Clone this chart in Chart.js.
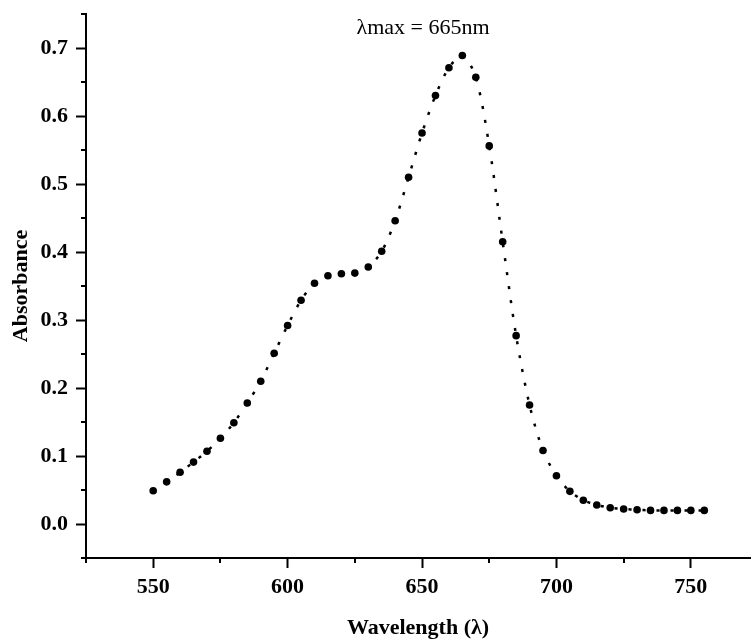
<!DOCTYPE html>
<html>
<head>
<meta charset="utf-8">
<script src="https://cdn.jsdelivr.net/npm/chart.js@4/dist/chart.umd.min.js"></script>
<style>
  html, body { margin: 0; padding: 0; background: #fff; overflow: hidden; }
  #wrap { width: 754px; height: 639px; }
</style>
</head>
<body>
<div id="wrap"><canvas id="c" width="754" height="639"></canvas></div>
<script>
// Absorption spectrum, 550–755 nm in 5 nm steps
const wavelengths = [550, 555, 560, 565, 570, 575, 580, 585, 590, 595,
                     600, 605, 610, 615, 620, 625, 630, 635, 640, 645,
                     650, 655, 660, 665, 670, 675, 680, 685, 690, 695,
                     700, 705, 710, 715, 720, 725, 730, 735, 740, 745,
                     750, 755];
const absorbance = [0.049, 0.062, 0.076, 0.091, 0.107, 0.126, 0.149, 0.178, 0.210, 0.251,
                    0.292, 0.329, 0.354, 0.365, 0.368, 0.369, 0.378, 0.401, 0.446, 0.510,
                    0.575, 0.630, 0.671, 0.689, 0.657, 0.556, 0.415, 0.277, 0.175, 0.108,
                    0.071, 0.048, 0.035, 0.028, 0.024, 0.022, 0.021, 0.020, 0.020, 0.020,
                    0.020, 0.020];

// Axis ticks: every listed value gets a mark, labelled ones get a long mark
const xTickValues = [525, 550, 575, 600, 625, 650, 675, 700, 725, 750];
const xTickLabels = [550, 600, 650, 700, 750];
const yTickValues = [-0.05, 0.0, 0.05, 0.1, 0.15, 0.2, 0.25, 0.3, 0.35, 0.4, 0.45, 0.5, 0.55, 0.6, 0.65, 0.7, 0.75];
const yTickLabels = [0.0, 0.1, 0.2, 0.3, 0.4, 0.5, 0.6, 0.7];

const annotationText = 'λmax = 665nm';

const SERIF = '"Liberation Serif", "Times New Roman", serif';
const isLabelled = (list, v) => list.some(l => Math.abs(l - v) < 1e-6);

const points = wavelengths.map((w, i) => ({ x: w, y: absorbance[i] }));

// Short marks for unlabelled ticks, pointing outward like the long ones
const minorTicks = {
  id: 'minorTicks',
  afterDraw(chart) {
    const { ctx, scales } = chart;
    ctx.save();
    ctx.strokeStyle = '#000';
    ctx.lineWidth = 2;
    const xs = scales.x, ys = scales.y;
    xTickValues.filter(v => !isLabelled(xTickLabels, v)).forEach(v => {
      const px = Math.round(xs.getPixelForValue(v));
      ctx.beginPath();
      ctx.moveTo(px, ys.bottom);
      ctx.lineTo(px, ys.bottom + 5);
      ctx.stroke();
    });
    yTickValues.filter(v => !isLabelled(yTickLabels, v)).forEach(v => {
      const py = Math.round(ys.getPixelForValue(v));
      ctx.beginPath();
      ctx.moveTo(xs.left, py);
      ctx.lineTo(xs.left - 5, py);
      ctx.stroke();
    });
    ctx.restore();
  }
};

// Peak annotation above the curve
const peakLabel = {
  id: 'peakLabel',
  afterDraw(chart) {
    const { ctx } = chart;
    ctx.save();
    ctx.font = '22px ' + SERIF;
    ctx.fillStyle = '#000';
    ctx.textAlign = 'center';
    ctx.textBaseline = 'middle';
    ctx.fillText(annotationText, 423, 28);
    ctx.restore();
  }
};

new Chart(document.getElementById('c'), {
  type: 'line',
  data: {
    datasets: [{
      data: points,
      borderColor: '#000',
      borderWidth: 2.5,
      borderDash: [3, 11],
      borderCapStyle: 'butt',
      pointRadius: 3.8,
      pointBackgroundColor: '#000',
      pointBorderColor: '#000',
      pointBorderWidth: 0,
      tension: 0.3,
      fill: false
    }]
  },
  options: {
    responsive: false,
    animation: false,
    devicePixelRatio: 1,
    layout: { padding: { top: 14, left: 0, right: 0, bottom: 0 } },
    plugins: { legend: { display: false }, tooltip: { enabled: false } },
    scales: {
      x: {
        type: 'linear',
        min: 525,
        max: 772,
        afterBuildTicks(scale) {
          scale.ticks = xTickValues.map(v => ({ value: v }));
        },
        afterFit(scale) { scale.height = 81; },
        ticks: {
          color: '#000',
          padding: 6,
          maxRotation: 0,
          autoSkip: false,
          font: { family: SERIF, size: 22, weight: 'bold' },
          callback: v => isLabelled(xTickLabels, v) ? String(v) : ''
        },
        grid: {
          drawOnChartArea: false,
          drawTicks: true,
          tickLength: 10,
          tickWidth: 2,
          tickColor: ctx => isLabelled(xTickLabels, ctx.tick.value) ? '#000' : 'rgba(0,0,0,0)'
        },
        border: { display: true, color: '#000', width: 2 },
        title: {
          display: true,
          text: 'Wavelength (λ)',
          color: '#000',
          font: { family: SERIF, size: 22, weight: 'bold' },
          padding: { top: 0, bottom: -3 }
        }
      },
      y: {
        type: 'linear',
        min: -0.05,
        max: 0.75,
        afterBuildTicks(scale) {
          scale.ticks = yTickValues.map(v => ({ value: v }));
        },
        afterFit(scale) {
          scale.width = 86;
          scale.paddingTop = 0;
          scale.paddingBottom = 0;
        },
        ticks: {
          color: '#000',
          padding: 8,
          autoSkip: false,
          font: { family: SERIF, size: 22, weight: 'bold' },
          callback: v => isLabelled(yTickLabels, v) ? Number(v).toFixed(1) : ''
        },
        grid: {
          drawOnChartArea: false,
          drawTicks: true,
          tickLength: 10,
          tickWidth: 2,
          tickColor: ctx => isLabelled(yTickLabels, ctx.tick.value) ? '#000' : 'rgba(0,0,0,0)'
        },
        border: { display: true, color: '#000', width: 2 },
        title: {
          display: true,
          text: 'Absorbance',
          color: '#000',
          font: { family: SERIF, size: 22, weight: 'bold' },
          padding: { top: 8, bottom: 0 }
        }
      }
    }
  },
  plugins: [minorTicks, peakLabel]
});
</script>
</body>
</html>
